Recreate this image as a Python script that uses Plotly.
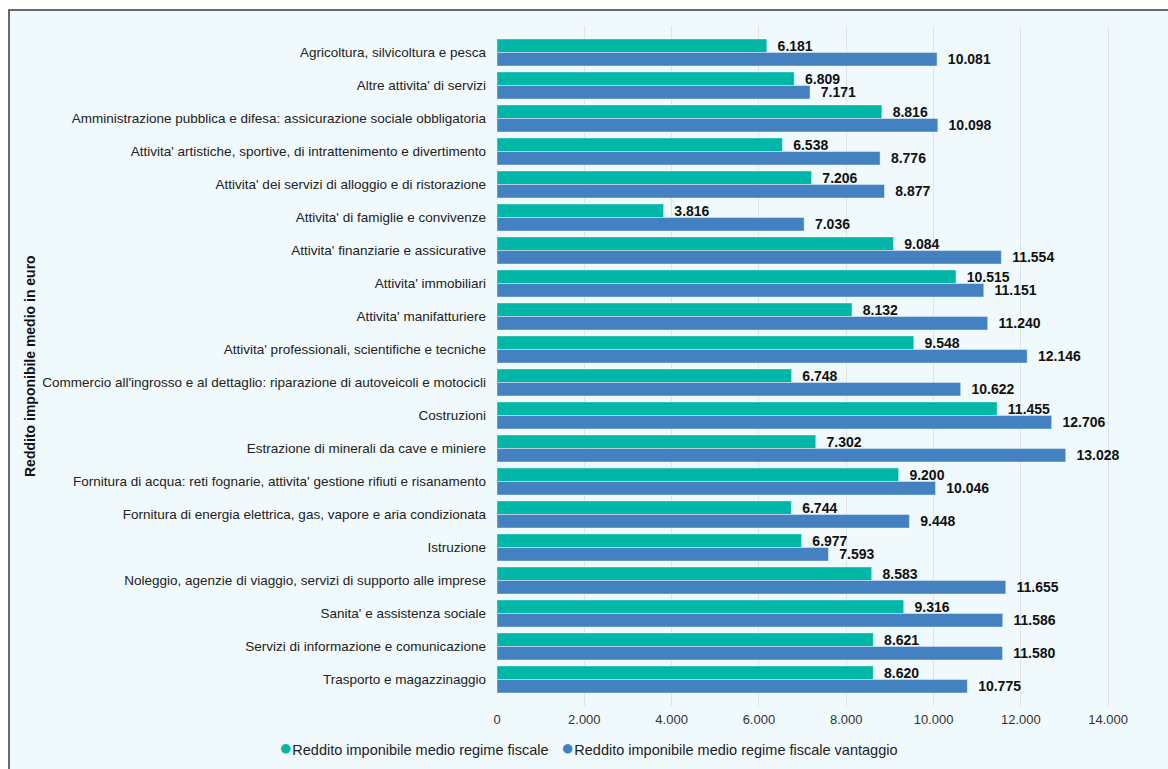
import plotly.graph_objects as go

categories = [
    "Agricoltura, silvicoltura e pesca",
    "Altre attivita' di servizi",
    "Amministrazione pubblica e difesa: assicurazione sociale obbligatoria",
    "Attivita' artistiche, sportive, di intrattenimento e divertimento",
    "Attivita' dei servizi di alloggio e di ristorazione",
    "Attivita' di famiglie e convivenze",
    "Attivita' finanziarie e assicurative",
    "Attivita' immobiliari",
    "Attivita' manifatturiere",
    "Attivita' professionali, scientifiche e tecniche",
    "Commercio all'ingrosso e al dettaglio: riparazione di autoveicoli e motocicli",
    "Costruzioni",
    "Estrazione di minerali da cave e miniere",
    "Fornitura di acqua: reti fognarie, attivita' gestione rifiuti e risanamento",
    "Fornitura di energia elettrica, gas, vapore e aria condizionata",
    "Istruzione",
    "Noleggio, agenzie di viaggio, servizi di supporto alle imprese",
    "Sanita' e assistenza sociale",
    "Servizi di informazione e comunicazione",
    "Trasporto e magazzinaggio",
]

reddito_fiscale = [6181, 6809, 8816, 6538, 7206, 3816, 9084, 10515, 8132, 9548,
                   6748, 11455, 7302, 9200, 6744, 6977, 8583, 9316, 8621, 8620]
reddito_vantaggio = [10081, 7171, 10098, 8776, 8877, 7036, 11554, 11151, 11240, 12146,
                     10622, 12706, 13028, 10046, 9448, 7593, 11655, 11586, 11580, 10775]

series_names = ["Reddito imponibile medio regime fiscale",
                "Reddito imponibile medio regime fiscale vantaggio"]
x_ticks = [0, 2000, 4000, 6000, 8000, 10000, 12000, 14000]

TEAL = "#00b6a6"
BLUE = "#4381c1"
BG = "#f0f9fc"
FONT = "Liberation Sans, Arial, sans-serif"

W, H = 1168, 769
ml, mr, mt, mb = 497, 28, 26, 63
pw, ph = W - ml - mr, H - mt - mb


def px_x(p):
    return (p - ml) / pw


def px_y(p):
    return (H - mb - p) / ph


fig = go.Figure()
legend_x = [279, 561]
for i, (vals, name, color) in enumerate([(reddito_fiscale, series_names[0], TEAL),
                                         (reddito_vantaggio, series_names[1], BLUE)]):
    fig.add_trace(go.Bar(
        y=categories, x=vals, orientation="h", name=name,
        marker=dict(color=color, line=dict(color="rgba(255,255,255,0.5)", width=0.8)),
        texttemplate="\u00a0\u00a0%{x:,}", textposition="outside",
        textfont=dict(family=FONT, size=14, color="#111111", weight="bold"),
        constraintext="none", cliponaxis=False, showlegend=False,
    ))
    # legend entry: round bullet drawn in the label, symbol slot left empty
    lg = "legend" if i == 0 else "legend2"
    fig.add_trace(go.Scatter(
        x=[None], y=[None], mode="markers", legend=lg,
        name=f"<span style='color:{color};font-size:22px'>\u25cf</span>{name}",
        marker=dict(color="rgba(0,0,0,0)", size=1),
    ))

legend_common = dict(yref="container", yanchor="middle", xanchor="left",
                     y=(H - 749) / H,
                     font=dict(size=14.5, color="#222222"),
                     bgcolor="rgba(0,0,0,0)", itemwidth=30)

fig.update_layout(
    width=W, height=H,
    margin=dict(l=ml, r=mr, t=mt, b=mb, autoexpand=False),
    paper_bgcolor="white", plot_bgcolor=BG,
    separators=",.",
    barmode="group", bargap=0.18, bargroupgap=0,
    font=dict(family=FONT, size=12, color="#222222"),
    xaxis=dict(range=[0, 14730], tickvals=x_ticks, tickformat=",d", showgrid=True,
               gridcolor="#dde3e6", gridwidth=1, zeroline=False,
               tickfont=dict(size=13, color="#333333"), ticks="",
               ticklabelstandoff=4),
    yaxis=dict(range=[19.803, -0.803], showgrid=False, ticks="",
               tickfont=dict(size=13.5, color="#222222"), ticklabelstandoff=10),
    legend=dict(x=px_x(legend_x[0] - 40), **legend_common),
    legend2=dict(x=px_x(legend_x[1] - 40), **legend_common),
    shapes=[dict(type="rect", xref="paper", yref="paper",
                 x0=px_x(9), x1=px_x(1175), y0=px_y(780), y1=px_y(10),
                 fillcolor=BG, line=dict(color="#3a3a3a", width=1.5), layer="below")],
    annotations=[dict(text="<b>Reddito imponibile medio in euro</b>", textangle=-90,
                      xref="paper", yref="paper", x=px_x(30), y=px_y(366),
                      xanchor="center", yanchor="middle",
                      showarrow=False, font=dict(size=14, color="#111111"))],
)

fig.write_html("out.html")
